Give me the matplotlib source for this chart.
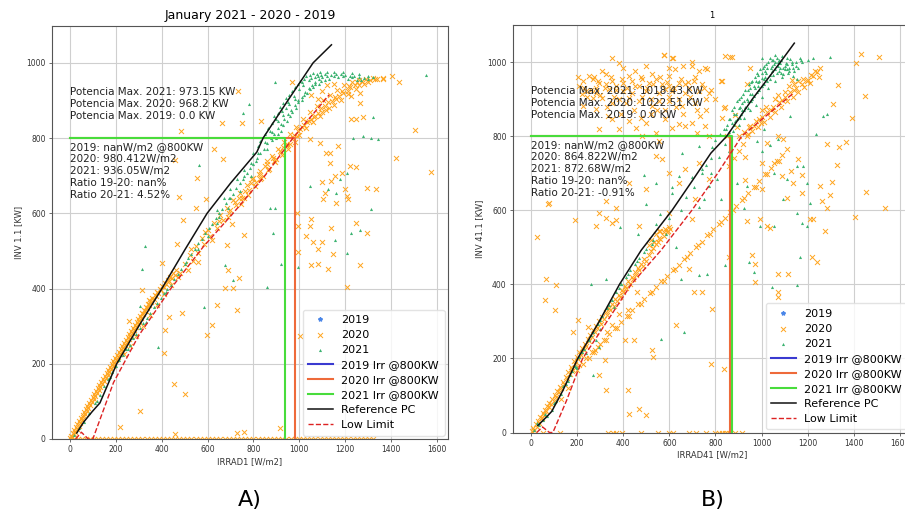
import numpy as np
import matplotlib
matplotlib.use('Agg')
import matplotlib.pyplot as plt

# ---------------- Panel A (IRRAD1 / INV 1.1) ----------------
a_ref_x = [30, 60, 96, 131, 204, 300, 401, 501, 598, 700, 815, 842, 950, 1060, 1140]
a_ref_y = [16, 45, 72, 96, 200, 300, 400, 503, 600, 680, 763, 800, 900, 1000, 1048]
a_low_x = [25, 50, 80, 100, 190, 300, 440, 580, 711, 850, 972, 1130]
a_low_y = [0, 18, 0, 0, 150, 275, 400, 510, 600, 700, 800, 915]
a_irr = {2019: np.nan, 2020: 980.412, 2021: 936.05}

a20_band = [(2,3),(6,9),(10,4),(12,16),(17,12),(19,24),(24,19),(27,31),(31,27),(33,40),(38,35),(40,47),(45,43),
            (47,56),(52,51),(55,63),(59,58),(61,71),(66,66),(69,79),(73,74),(76,88),(80,82),(84,96),(88,90),(91,104),
            (95,99),(99,112),(103,106),(106,120),(110,114),(114,128),(118,122),(121,136),(126,131),(129,144),(133,139),
            (137,152),(141,147),(144,160),(148,155),(152,168),(156,163),(160,176),(164,171),(167,184),(171,179),
            (175,192),(179,187),(183,200),(187,195),(190,208),(194,203),(198,216),(202,211),(206,224),(210,219),
            (213,232),(217,227),(221,240),(225,235),(229,248),(233,243),(236,256),(240,251),(244,264),(248,259),
            (252,272),(256,267),(259,280),(263,275),(267,288),(271,283),(275,296),(279,291),(283,304),(287,299),
            (291,312),(295,307),(299,320),(303,315),(307,328),(311,323),(315,336),(320,331),(324,344),(328,339),
            (333,352),(337,347),(341,360),(346,355),(350,368),(355,363),(360,376),(365,371),(370,384),(375,379),
            (380,392),(386,387),(391,400),(397,395),(402,408),(408,403),(414,416),(420,411),(426,424),(432,419),
            (438,432),(444,427),(450,440),(456,435),(462,448),(235,225),(262,248),(290,275),(318,300),(350,330),
            (380,355),(410,385),(440,410),(470,430),
            (480,440),(515,450),(500,465),(535,472),(525,490),(560,495),(548,512),(585,518),(575,535),(610,540),
            (600,556),(640,560),(628,575),(668,582),(655,595),(695,602),(684,615),(722,622),(712,635),(752,642),
            (742,655),(782,662),(772,675),(812,682),(800,695),(840,700),(830,712),(868,718),(858,730),(896,736),
            (886,748),(925,754),(915,766),(952,772),(945,784),(982,790),(972,800),(1000,808),(995,818),(1030,826),
            (1022,836),(1058,842),(1050,852),(1088,858),(1080,868),(1118,874),(1110,884),(1150,888),(1142,898),
            (1180,902),(1175,912),(1212,916),(1210,926),(1245,930),(1242,940),(1280,944),(1275,952),(1310,955),
            (1340,958),(1365,960),(560,470),(620,530),(690,590),(760,640),(830,690),(900,745),(960,785),(1010,830),
            (1070,860),(1130,880),(1190,920),(1250,948),(530,505),(590,550),(650,580),(720,630),(790,680),
            (860,740),(930,775),(990,805),(1040,845),(1100,870),(1160,905),(1220,935),
            (700,610),(735,640),(765,660),(795,690),(825,705),(850,725),(880,752),(905,770),(935,790),(960,812),
            (985,830),(1015,850),(1045,870),(1075,885),(1105,900),(1135,915),(1165,928),(1195,940),(1230,950),
            (1260,955),(1290,958),(1320,960),(745,625),(775,650),(805,672),(835,695),(865,715),(890,740),(920,762),
            (948,780),(975,808),(1005,825),(1035,842),(1065,855),(1095,880),(1125,895),(1155,910),(1185,925),
            (1215,938),(1260,940),(1300,948),(1080,905),(1100,925),(1120,940),(1150,945),(1050,915)]
a20_scatter = [(732,925),(665,841),(750,840),(484,819),(628,771),(666,745),(458,742),(553,694),(475,644),(592,638),
               (549,614),(492,582),(706,572),(970,948),(835,846),(1503,822),(1423,746),(1576,711),(1293,666),
               (1336,664),(1264,921),(1227,912),(1264,894),(1278,855),(1249,850),(1227,850),(1329,957),(1365,957),
               (1402,966),(1434,948),(1168,779),(1132,761),(1089,787),(1046,798),(1220,726),(1249,722),(1184,708),
               (1155,699),(1140,686),(1198,664),(1111,655),(1104,637),(1162,628),(1118,761),(1133,735),(1097,682),
               (1206,646),(1213,637),(1249,575),(1140,562),(1053,584),(1046,566),(988,602),(995,566),(1031,540),
               (1060,525),(1097,525),(1082,505),(1147,492),(1053,463),(1082,465),(1125,452),(1264,463),(995,498),
               (1206,405),(1293,547),(1005,274),(915,30),(757,543),(466,519),(401,468),(684,516),(691,449),(677,401),
               (713,401),(735,427),(728,343),(641,356),(619,303),(597,277),(488,334),(430,324),(415,290),(408,228),
               (314,396),(343,370),(256,315),(452,146),(503,120),(307,75),(219,33),(728,17),(757,19),(459,13)]
a20_zero_x = [3, 18, 35, 52, 70, 88, 104, 122, 140, 157, 175, 193, 210, 228, 246, 263, 281, 299, 316, 334, 352,
              370, 388, 405, 423, 441, 458, 476, 494, 512, 530, 548, 566, 584, 602, 620, 638, 656, 674, 692, 710,
              728, 746, 764, 782, 800, 818, 836, 854, 872, 890, 908, 926, 944, 962, 980, 998, 1016, 1034, 1052,
              1070, 1088, 1106, 1124, 1142, 1160, 1178, 1196, 1214, 1232, 1250, 1268, 1286, 1304, 1322]

a21_band = [(20,10),(40,30),(60,45),(85,70),(110,95),(130,118),(150,140),(165,160),(185,178),(200,195),(215,210),
            (230,222),(245,238),(260,250),(275,268),(290,280),(305,295),(320,308),(335,322),(350,335),(365,350),
            (380,362),(395,375),(410,388),(425,400),(440,410),(455,425),(470,438),(485,452),(500,465),(515,480),
            (530,492),(545,505),(560,520),(575,532),(590,548),(605,560),(620,572),(635,588),(650,600),(665,612),
            (680,628),(695,640),(710,652),(725,668),(740,680),(755,692),(770,708),(785,720),(800,732),(815,748),
            (830,760),(845,772),(860,788),(875,800),(890,812),(905,826),(920,838),(935,852),(950,864),(965,876),
            (980,888),(995,900),(1010,910),(1025,922),(1040,932),(1055,942),(1070,950),(1085,956),(1100,962),
            (1120,966),(1140,968),(1160,970),(1180,970),(1200,968),(1220,966),(1240,964),(1260,962),(1280,960),
            (820,780),(850,810),(880,840),(905,868),(930,892),(955,915),(980,935),(1005,952),(1030,965),(1060,972),
            (1090,975),(1120,975),(1150,976),(1190,976),(1230,972),(1260,970),(1300,966),(1320,962),(800,760),
            (830,792),(862,826),(890,858),(915,882),(942,906),(968,925),(995,944),(1020,958),(1048,968),(1075,970),
            (870,820),(900,850),(925,872),(950,895),(975,912),(1000,930),(940,880),(1015,940),(1040,955),(1068,962),
            (1095,968),(560,505),(600,540),(640,575),(690,615),(740,660),(790,700),(760,700),(810,740),(700,640),
            (650,590),(120,100),(175,165),(255,240),(330,312),(420,392),(505,470),
            (900,800),(920,820),(945,845),(970,870),(995,895),(1020,915),(1045,930),(1070,945),(1095,952),
            (1130,958),(1170,962),(1210,958),(1250,955),(860,770),(880,795),(905,812),(930,835),(960,858),(985,880),
            (1010,900),(1035,920),(1060,935),(1085,945),(1110,955),(1150,965),(1190,965),(1230,962),(1270,955),
            (1300,958),(1010,950),(1050,960),(1080,965),(1110,970),(980,905),(955,890),(930,862),(905,845),
            (880,815),(850,790),(820,760),(790,735),(760,715),(730,690),(700,665),(670,640),(640,610)]
a21_scatter = [(780,891),(754,867),(562,729),(893,948),(1554,967),(1322,855),(1278,806),(1314,801),(1343,797),
               (1234,801),(1206,708),(1176,691),(1125,665),(1162,655),(1046,673),(893,615),(871,615),(1314,611),
               (886,547),(922,465),(995,457),(857,403),(1155,529),(1206,495),(1227,547),(1264,556),(328,513),
               (314,451),(307,354),(583,350),(386,245),(713,423),(677,463)]

# ---------------- Panel B (IRRAD41 / INV 41.1) ----------------
b_ref_x = [30, 69, 90, 138, 203, 296, 384, 478, 612, 700, 780, 849, 960, 1082, 1142]
b_ref_y = [19, 43, 57, 113, 200, 300, 400, 492, 600, 680, 754, 800, 900, 1000, 1051]
b_low_x = [25, 50, 80, 95, 154, 224, 330, 435, 564, 698, 810, 914, 1138]
b_low_y = [0, 15, 0, 0, 86, 200, 300, 400, 492, 600, 700, 800, 916]
b_irr = {2019: np.nan, 2020: 864.822, 2021: 872.68}

b20_band = [(3,4),(10,12),(15,6),(20,22),(26,16),(30,32),(36,26),(40,42),(46,38),(50,52),(56,48),(60,62),(66,58),
            (70,72),(76,68),(80,80),(86,76),(92,90),(98,86),(104,100),(110,96),(114,112),(120,108),(126,124),
            (132,120),(138,136),(144,132),(150,150),(156,146),(162,164),(168,158),(174,178),(180,172),(186,192),
            (192,186),(198,204),(204,198),(210,216),(216,210),(222,228),(228,222),(234,240),(240,234),(246,252),
            (252,246),(258,264),(264,258),(270,276),(276,270),(282,288),(288,282),(296,300),(302,294),(310,312),
            (316,306),(324,324),(330,318),(338,336),(344,330),(352,348),(358,342),(366,360),(372,354),(380,372),
            (386,366),(394,384),(400,378),(408,396),(414,390),(422,408),(428,402),(436,420),(442,414),(450,432),
            (456,426),(464,444),(470,438),(478,456),(484,450),(492,468),(500,462),(510,480),(520,490),(530,498),
            (540,508),(550,515),(560,522),(575,530),(590,540),(605,548),(520,520),(540,535),(560,545),(580,550),
            (600,555),(555,525),(575,540),(535,515),(595,545),(510,505),(250,200),(300,240),(350,290),(420,330),
            (460,380),(330,270),(380,320),(130,90),(160,120),(200,170),
            (180,165),(210,182),(240,200),(265,216),(290,232),(315,250),(340,266),(365,282),(390,298),(415,314),
            (440,330),(465,346),(490,360),(515,376),(540,392),(565,408),(590,422),(615,438),(640,452),(665,468),
            (690,484),(715,500),(740,515),(765,532),(790,548),(815,564),(840,580),(865,596),(890,612),(915,628),
            (940,646),(965,662),(990,680),(1015,698),(1040,714),(1065,732),(1090,750),(1112,766),(225,185),
            (275,218),(325,250),(375,282),(425,314),(475,346),(525,378),(575,410),(625,442),(675,474),(725,506),
            (775,536),(825,568),(875,600),(925,632),(975,664),(1025,698),(1075,734),
            (900,800),(925,812),(950,828),(975,840),(985,825),(1000,852),(1010,838),(1025,865),(1035,852),
            (1050,878),(1060,866),(1075,892),(1085,880),(1100,905),(1110,894),(1125,918),(1135,906),(1150,930),
            (1160,920),(1175,942),(1185,932),(1200,952),(1210,944),(1225,962),(1240,972),(1250,960),(960,815),
            (940,805),(990,845),(1040,870),(1090,898),(1140,925),(1195,948),(900,760),(920,780),(880,740),(860,720),
            (944,825),(968,827),(996,836),(930,744),(1131,951),(1020,880),(1060,900),(1100,920),(1140,940),
            (1180,955),(1215,965),(1000,870),(1070,910),(1120,935),(1160,950),(1230,975),(1255,985)]
b20_cloud = [(576,1018),(612,1012),(626,980),(353,1012),(382,998),(698,989),(756,985),(727,976),(224,949),(267,953),
             (296,944),(325,940),(353,949),(397,944),(440,949),(483,953),(511,944),(540,953),(569,940),(598,935),
             (641,944),(670,940),(705,949),(210,935),(239,922),(282,917),(339,926),(397,922),(440,917),(497,922),
             (555,917),(612,922),(670,917),(727,922),(770,917),(310,904),(382,899),(468,895),(526,881),(598,895),
             (655,881),(713,890),(224,881),(282,872),(353,845),(425,841),(497,836),(583,845),(641,832),(698,836),
             (756,827),(296,818),(382,818),(454,823),(540,809),(612,823),(670,827),(720,809),(770,800),(483,800),
             (555,786),(253,962),(325,967),(425,962),(526,967),(598,962),(282,931),(368,935),(468,935),(583,926),
             (684,931),(267,904),(353,890),(425,904),(555,895),(641,899),(578,1019),(614,1010),(872,1014),
             (843,1016),(865,1014),(764,980),(951,985),(822,949),(937,940),(829,950),(836,875),(886,857),
             (750,931),(780,925),(800,900),(840,880),(760,870),(829,850),(850,800),(894,826),(937,800),
             (230,930),(260,925),(290,950),(320,930),(345,960),(370,925),(395,955),(415,930),(450,935),(475,960),
             (505,930),(530,940),(560,960),(590,945),(620,930),(650,955),(680,945),(710,960),(740,940),(245,905),
             (300,910),(330,880),(360,905),(410,890),(445,870),(480,905),(520,900),(545,870),(600,905),(630,880),
             (690,905),(720,870),(760,900),(275,960),(310,975),(400,985),(450,975),(500,990),(660,990),(700,1000),
             (600,985),(220,915),(205,960),(335,855),(390,860),(475,850),(520,860),(580,870),(660,860),(735,855)]
b20_scatter = [(540,746),(598,701),(641,674),(497,656),(425,674),(325,624),(368,606),(282,557),(353,566),(80,620),
               (296,593),(468,557),(555,543),(598,593),(698,575),(713,629),(770,683),(670,710),(727,728),(569,737),
               (25,528),(190,573),(75,618),(326,578),(369,573),(1432,1021),(1511,1014),(1411,998),(1332,937),
               (1447,908),(1310,886),(1394,850),(1282,778),(1336,770),(1368,784),(1325,721),(1454,649),(1537,606),
               (1404,582),(1306,676),(1253,665),(1296,642),(1260,624),(1282,606),(1224,577),(1210,577),(1274,543),
               (1174,647),(1109,633),(1088,692),(1126,705),(1159,737),(1174,696),(1138,674),(1023,557),(1037,552),
               (994,575),(937,570),(1002,656),(930,681),(1052,728),(1002,728),(1095,791),(1023,782),(1073,800),
               (858,474),(973,456),(958,478),(1073,379),(1073,366),(970,406),(1220,474),(1239,460),(1116,429),
               (1073,429),(65,415),(108,397),(60,357),(103,330),(204,303),(182,271),(247,285),(276,222),(319,195),
               (297,154),(326,114),(420,114),(427,50),(499,46),(470,64),(409,249),(524,222),(530,205),(448,249),
               (628,289),(685,442),(706,379),(743,379),(786,334),(836,172),(779,186)]
b20_zero_x = [53, 125, 333, 355, 369, 395, 477, 549, 599, 614, 685, 714, 757, 800, 815, 829, 843, 850, 865, 886, 915]

b21_band = [(15,8),(35,20),(50,35),(70,45),(90,60),(110,85),(130,105),(150,130),(170,155),(190,180),(210,205),
            (230,225),(250,250),(270,272),(290,292),(310,315),(330,335),(350,358),(370,380),(390,400),(410,420),
            (430,438),(450,455),(470,470),(490,488),(25,25),(60,50),(100,80),(140,125),(180,165),(220,218),
            (260,262),(300,305),(340,345),(380,390),(420,428),(460,462),(500,495),(525,510),(300,280),(360,340),
            (280,250),(240,215),(200,175),(160,140),
            (836,818),(850,830),(865,845),(880,860),(894,845),(900,875),(915,890),(922,870),(935,900),(950,915),
            (966,908),(970,930),(985,945),(1000,958),(1009,940),(1020,970),(1037,953),(1040,985),(1055,995),
            (1066,971),(1075,1005),(1081,998),(1095,967),(1102,980),(1110,1010),(1124,1007),(1138,962),(1152,953),
            (1167,1012),(1224,1012),(860,810),(880,830),(905,850),(930,880),(955,895),(980,920),(1000,935),
            (1025,950),(1050,965),(1075,975),(1100,990),(1120,985),(1060,950),(1030,930),(1000,905),(975,885),
            (950,870),(925,850),(900,830),(875,815),(1090,960),(1115,970),(1140,975),(1160,985),(870,870),
            (895,895),(920,915),(945,940),(970,960),(995,980),(1020,995),(1045,1005),(1065,1012),(1090,1015),
            (1015,960),(1045,975),(1070,990),(990,925),(960,900),(940,875),(910,860),(885,840),(960,950),(985,965),
            (1005,985),(1030,1000),(1000,1010),(1060,1000),(1080,985),(1105,998),(1130,995),(1150,990),
            (1175,1000),(1200,1005),
            (900,900),(930,925),(955,945),(980,970),(1010,990),(1035,1010),(1060,1020),(1085,1005),(1110,995),
            (1130,1000),(1150,1000),(1170,1005),(880,880),(910,905),(940,925),(965,935),(990,950),(1015,975),
            (1045,990),(1070,1000),(1095,985),(1120,975),(870,835),(890,860),(915,870),(940,895),(960,915),
            (985,935),(1010,955),(1035,965),(1060,980),(1085,970),(1110,980),(1135,985),(845,820),(860,845),
            (905,880),(925,895),(950,930),(975,950),(1000,970),(1025,985),(1050,1005)]
b21_scatter = [(491,695),(613,663),(707,663),(757,722),(815,744),(786,771),(671,636),(499,618),(728,609),(384,555),
               (463,537),(527,519),(585,537),(628,501),(542,564),(261,402),(326,415),(391,400),(649,415),(728,424),
               (764,429),(843,451),(944,460),(966,433),(1045,393),(1152,397),(1167,474),(664,271),(563,253),
               (269,154),(197,177),(297,231),(780,700),(808,683),(772,665),(822,629),(750,629),(894,674),(937,665),
               (1052,701),(1109,683),(1152,719),(1181,719),(1238,805),(1195,674),(1210,620),(1152,593),(1195,557),
               (1095,629),(1052,557),(994,557),(922,606),(1002,760),(1037,777),(980,786),(1124,854),(1267,854),
               (1282,859),(1073,791),(1009,818),(1174,566),(1296,1014),(820,805),(800,790),(840,780),(860,760),
               (780,740),(740,700),(700,690),(650,600),(600,580),(560,590),(727,773),(655,755),(540,674),(612,647),
               (741,710),(641,692)]

a_text1 = "Potencia Max. 2021: 973.15 KW\nPotencia Max. 2020: 968.2 KW\nPotencia Max. 2019: 0.0 KW"
a_text2 = ("2019: nanW/m2 @800KW\n2020: 980.412W/m2\n2021: 936.05W/m2\n"
           "Ratio 19-20: nan%\nRatio 20-21: 4.52%")
b_text1 = "Potencia Max. 2021: 1018.43 KW\nPotencia Max. 2020: 1022.51 KW\nPotencia Max. 2019: 0.0 KW"
b_text2 = ("2019: nanW/m2 @800KW\n2020: 864.822W/m2\n2021: 872.68W/m2\n"
           "Ratio 19-20: nan%\nRatio 20-21: -0.91%")

ORANGE = '#ffa51f'
GREEN = '#3cb371'
LINE_COL = {2019: '#3a3ad0', 2020: '#ee6a3a', 2021: '#48dc3c'}


def xy(pts):
    return [p[0] for p in pts], [p[1] for p in pts]


def draw_panel(ax, p20, z20, p21, ref, low, irr, txt1, txt2, title, xlab, ylab, title_size):
    ax.plot([], [], ls='none', marker='*', ms=3, color='#4a86e8', label='2019')
    x, y = xy(p20)
    ax.scatter(x, y, marker='x', s=13, lw=0.7, color=ORANGE, label='2020', zorder=2)
    ax.scatter(z20, np.zeros(len(z20)), marker='x', s=13, lw=0.7, color=ORANGE, zorder=2, clip_on=True)
    x, y = xy(p21)
    ax.scatter(x, y, marker='^', s=5, lw=0, color=GREEN, label='2021', zorder=3)
    for yr in (2019, 2020, 2021):
        v = irr[yr]
        ax.plot([0, v, v], [800, 800, 0], color=LINE_COL[yr], lw=1.5, label=f'{yr} Irr @800KW', zorder=4)
    ax.plot(ref[0], ref[1], color='#111111', lw=1.1, label='Reference PC', zorder=5)
    ax.plot(low[0], low[1], color='#dd2222', lw=1.0, ls='--', label='Low Limit', zorder=5)
    ax.text(0, 935, txt1, fontsize=7.5, va='top', ha='left', color='#222222', zorder=6, linespacing=1.25)
    ax.text(0, 790, txt2, fontsize=7.5, va='top', ha='left', color='#222222', zorder=6, linespacing=1.25)
    ax.set_xlim(-78, 1648)
    ax.set_ylim(0, 1098)
    ax.set_xticks(range(0, 1601, 200))
    ax.set_yticks(range(0, 1001, 200))
    ax.grid(True, color='#cfcfcf', lw=0.8)
    ax.set_axisbelow(True)
    ax.tick_params(labelsize=5.5, length=2.5, width=0.5, pad=2, colors='#333333')
    for s in ax.spines.values():
        s.set_color('#555555')
        s.set_linewidth(0.8)
    ax.set_xlabel(xlab, fontsize=6, labelpad=2, color='#333333')
    ax.set_ylabel(ylab, fontsize=6, labelpad=2, color='#333333')
    ax.set_title(title, fontsize=title_size, pad=5)
    leg = ax.legend(loc='lower right', fontsize=8, frameon=True, handlelength=2.2,
                    labelspacing=0.45, borderpad=0.5, borderaxespad=0.3)
    leg.get_frame().set_edgecolor('#dddddd')


fig = plt.figure(figsize=(9.05, 5.17), dpi=100)
ax_a = fig.add_axes([52 / 905, 78 / 517, 396 / 905, 413 / 517])
ax_b = fig.add_axes([513 / 905, 84.5 / 517, 398 / 905, 407.5 / 517])

a20 = a20_band + a20_scatter
a21 = a21_band + a21_scatter
b20 = b20_band + b20_cloud + b20_scatter
b21 = b21_band + b21_scatter

draw_panel(ax_a, a20, a20_zero_x, a21, (a_ref_x, a_ref_y), (a_low_x, a_low_y), a_irr,
           a_text1, a_text2, 'January 2021 - 2020 - 2019', 'IRRAD1 [W/m2]', 'INV 1.1 [KW]', 9)
draw_panel(ax_b, b20, b20_zero_x, b21, (b_ref_x, b_ref_y), (b_low_x, b_low_y), b_irr,
           b_text1, b_text2, '1', 'IRRAD41 [W/m2]', 'INV 41.1 [KW]', 6)
ax_b.set_ylim(0, 1100)

fig.text(250 / 905, 1 - 500 / 517, 'A)', fontsize=16, ha='center', va='center')
fig.text(713 / 905, 1 - 500 / 517, 'B)', fontsize=16, ha='center', va='center')

fig.savefig('out.png', dpi=100)
